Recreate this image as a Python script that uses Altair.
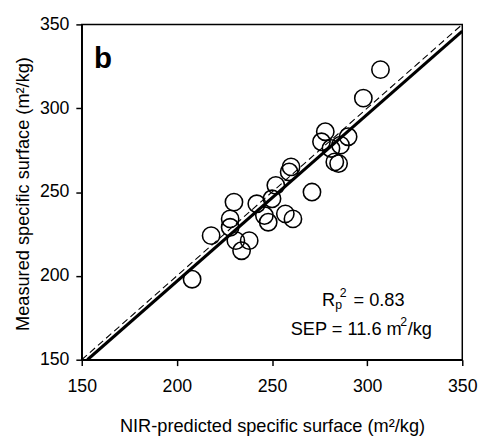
import altair as alt
import pandas as pd

# NIR-predicted (x) vs measured (y) specific surface, m2/kg
pred = [208, 218, 230, 228, 228, 231, 234, 238, 242, 246, 248, 250, 252, 257,
        261, 260, 259, 271, 278, 276, 281, 283, 285, 286, 290, 298, 307]
meas = [198, 224, 244, 234, 229, 221, 215, 221, 243, 236, 232, 246, 254, 237,
        234, 265, 262, 250, 286, 280, 276, 268, 267, 278, 283, 306, 323]

tick_values = [150, 200, 250, 300, 350]
fit_x = [153, 350]     # regression line
fit_y = [150, 346]
one_x = [150, 350]     # 1:1 line
one_y = [150, 350]

panel_label = "b"
r2_text = "= 0.83"
sep_text = "SEP = 11.6 m"

FONT = "Liberation Sans"
xs = alt.Scale(domain=[150, 350], nice=False, zero=False)
ys = alt.Scale(domain=[150, 350], nice=False, zero=False)

xaxis = alt.Axis(values=tick_values, grid=False, tickSize=6, tickWidth=1.5,
                 tickColor="black", domainColor="black", domainWidth=1.5,
                 labelFont=FONT, labelFontSize=18, labelColor="black",
                 labelPadding=12, labelFlush=False,
                 title="NIR-predicted specific surface (m²/kg)",
                 titleFont=FONT, titleFontSize=18.5, titleFontWeight="normal",
                 titleColor="black", titleBaseline="alphabetic", titleY=73)
yaxis = alt.Axis(values=tick_values, grid=False, tickSize=6, tickWidth=1.5,
                 tickColor="black", domainColor="black", domainWidth=1.5,
                 labelFont=FONT, labelFontSize=18, labelColor="black",
                 labelPadding=7, labelFlush=False,
                 title="Measured specific surface (m²/kg)",
                 titleFont=FONT, titleFontSize=18.5, titleFontWeight="normal",
                 titleColor="black", titleAngle=270, titleBaseline="alphabetic",
                 titleX=-54, titleY=172, titleAlign="center")

pts_df = pd.DataFrame({"pred": pred, "meas": meas})
fit_df = pd.DataFrame({"pred": fit_x, "meas": fit_y})
one_df = pd.DataFrame({"pred": one_x, "meas": one_y})

points = alt.Chart(pts_df).mark_point(
    shape="circle", filled=False, size=310, color="black", strokeWidth=1.6,
    opacity=1
).encode(
    x=alt.X("pred:Q", scale=xs, axis=xaxis),
    y=alt.Y("meas:Q", scale=ys, axis=yaxis),
)

fit_line = alt.Chart(fit_df).mark_line(color="black", strokeWidth=3.2, clip=True).encode(
    x=alt.X("pred:Q", scale=xs), y=alt.Y("meas:Q", scale=ys))
one_line = alt.Chart(one_df).mark_line(color="black", strokeWidth=1.1,
                                       strokeDash=[7, 4], clip=True).encode(
    x=alt.X("pred:Q", scale=xs), y=alt.Y("meas:Q", scale=ys))

def txt(df_x, df_y, text, size, dx=0, dy=0, weight="normal"):
    d = pd.DataFrame({"pred": [df_x], "meas": [df_y], "t": [text]})
    return alt.Chart(d).mark_text(
        font=FONT, fontSize=size, fontWeight=weight, color="black",
        align="left", baseline="alphabetic", dx=dx, dy=dy
    ).encode(x=alt.X("pred:Q", scale=xs), y=alt.Y("meas:Q", scale=ys),
             text="t:N")

# annotation anchors (data coordinates)
r2_x, r2_y = 276.3, 182.3
sep_x, sep_y = 259.8, 165.0

labels = [
    txt(156.5, 324.2, panel_label, 30, weight="bold"),
    txt(r2_x, r2_y, "R", 18.5),
    txt(r2_x, r2_y, "p", 12.5, dx=13.5, dy=4),
    txt(r2_x, r2_y, "2", 12.5, dx=18, dy=-8.5),
    txt(r2_x, r2_y, r2_text, 18.5, dx=32),
    txt(sep_x, sep_y, sep_text, 18.5),
    txt(sep_x, sep_y, "2", 12.5, dx=111.5, dy=-8.5),
    txt(sep_x, sep_y, "/kg", 18.5, dx=119),
]

chart = alt.layer(points, one_line, fit_line, *labels).properties(
    width=387, height=341,
    autosize=alt.AutoSizeParams(type="none"),
    padding={"left": 75, "top": 13, "right": 17, "bottom": 80},
    background="white",
).configure_view(stroke="black", strokeWidth=1.5)

chart.save("out.html", embed_options={"renderer": "svg", "actions": False})
